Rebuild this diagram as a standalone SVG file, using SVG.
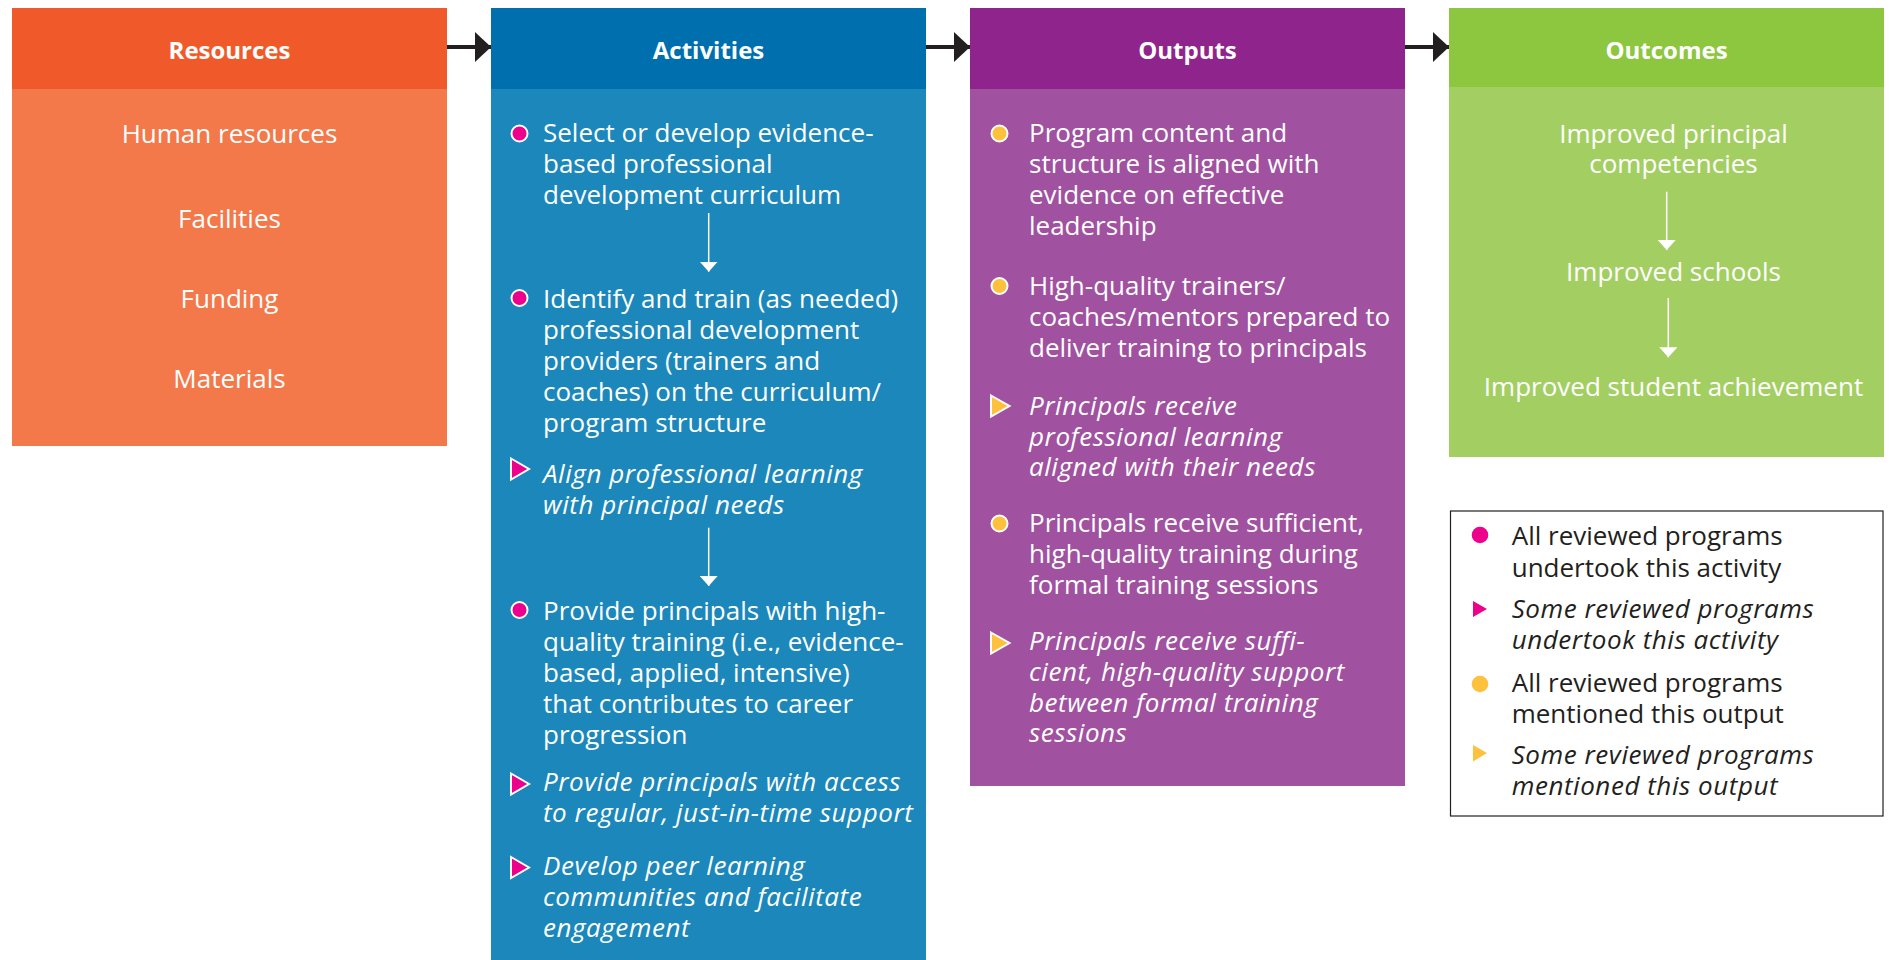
<svg xmlns="http://www.w3.org/2000/svg" width="1893" height="960" viewBox="0 0 1893 960">
<style>
  text { font-family: "Open Sans", "Noto Sans", "Liberation Sans", sans-serif; font-size: 26px; fill: #ffffff; }
  .hd { font-weight: bold; font-size: 24px; text-anchor: middle; }
  .c { text-anchor: middle; }
  .it { font-style: italic; letter-spacing: 0.55px; }
  .lg { fill: #231f20; }
  .conn { stroke: #231f20; stroke-width: 4; fill: none; }
  .wline { stroke: #ffffff; stroke-width: 1.5; fill: none; }
  .pinkdot { fill: #ec008c; stroke: #ffffff; stroke-width: 2; }
  .yeldot { fill: #fdc13d; stroke: #ffffff; stroke-width: 2; }
</style>
<defs>
  <marker id="blk" viewBox="0 0 16 30" refX="16" refY="15" markerWidth="16" markerHeight="30" markerUnits="userSpaceOnUse" orient="auto">
    <path d="M0,0 L16,15 L0,30 Z" fill="#231f20"/>
  </marker>
  <marker id="wht" viewBox="0 0 10 18" refX="10" refY="9" markerWidth="10" markerHeight="18" markerUnits="userSpaceOnUse" orient="auto">
    <path d="M0,0 L10,9 L0,18 Z" fill="#ffffff"/>
  </marker>
</defs>

<g id="resources">
  <rect x="12" y="8" width="435" height="438" fill="#f3784a"/>
  <rect x="12" y="8" width="435" height="81" fill="#f05a2a"/>
  <text class="hd" x="229.5" y="59">Resources</text>
  <text class="c" x="229.5" y="143">Human resources</text>
  <text class="c" x="229.5" y="228">Facilities</text>
  <text class="c" x="229.5" y="308">Funding</text>
  <text class="c" x="229.5" y="388">Materials</text>
</g>

<g id="activities">
  <rect x="491" y="8" width="435" height="952" fill="#1b87ba"/>
  <rect x="491" y="8" width="435" height="81" fill="#006fad"/>
  <text class="hd" x="708.5" y="59">Activities</text>
  <circle class="pinkdot" cx="519.5" cy="133.5" r="8"/>
  <text x="543"><tspan x="543" y="142">Select or develop evidence-</tspan><tspan x="543" y="173">based professional</tspan><tspan x="543" y="204">development curriculum</tspan></text>
  <circle class="pinkdot" cx="519.5" cy="298" r="8"/>
  <text x="543"><tspan x="543" y="307.5">Identify and train (as needed)</tspan><tspan x="543" y="338.5">professional development</tspan><tspan x="543" y="369.5">providers (trainers and</tspan><tspan x="543" y="400.5">coaches) on the curriculum/</tspan><tspan x="543" y="431.5">program structure</tspan></text>
  <polygon class="pinkdot" points="511,458.5 529,469 511,479.5"/>
  <text class="it" x="543"><tspan x="543" y="482.5">Align professional learning</tspan><tspan x="543" y="513.5">with principal needs</tspan></text>
  <circle class="pinkdot" cx="519.5" cy="610" r="8"/>
  <text x="543"><tspan x="543" y="619.5">Provide principals with high-</tspan><tspan x="543" y="650.5">quality training (i.e., evidence-</tspan><tspan x="543" y="681.5">based, applied, intensive)</tspan><tspan x="543" y="712.5">that contributes to career</tspan><tspan x="543" y="743.5">progression</tspan></text>
  <polygon class="pinkdot" points="511,773.5 529,784 511,794.5"/>
  <text class="it" x="543"><tspan x="543" y="791">Provide principals with access</tspan><tspan x="543" y="822">to regular, just-in-time support</tspan></text>
  <polygon class="pinkdot" points="511,857 529,867.5 511,878"/>
  <text class="it" x="543"><tspan x="543" y="875">Develop peer learning</tspan><tspan x="543" y="906">communities and facilitate</tspan><tspan x="543" y="937">engagement</tspan></text>
</g>

<g id="outputs">
  <rect x="970" y="8" width="435" height="778" fill="#a0519f"/>
  <rect x="970" y="8" width="435" height="81" fill="#8e248c"/>
  <text class="hd" x="1187.5" y="59">Outputs</text>
  <circle class="yeldot" cx="999.5" cy="133.5" r="8"/>
  <text x="1029"><tspan x="1029" y="141.5">Program content and</tspan><tspan x="1029" y="172.5">structure is aligned with</tspan><tspan x="1029" y="204">evidence on effective</tspan><tspan x="1029" y="235">leadership</tspan></text>
  <circle class="yeldot" cx="999.5" cy="286" r="8"/>
  <text x="1029"><tspan x="1029" y="295">High-quality trainers/</tspan><tspan x="1029" y="325.5">coaches/mentors prepared to</tspan><tspan x="1029" y="356.5">deliver training to principals</tspan></text>
  <polygon class="yeldot" points="991,395.5 1009.5,406 991,416.5"/>
  <text class="it" x="1029"><tspan x="1029" y="415">Principals receive</tspan><tspan x="1029" y="445.5">professional learning</tspan><tspan x="1029" y="476">aligned with their needs</tspan></text>
  <circle class="yeldot" cx="999.5" cy="523.5" r="8"/>
  <text x="1029"><tspan x="1029" y="531.5">Principals receive sufficient,</tspan><tspan x="1029" y="562.5">high-quality training during</tspan><tspan x="1029" y="593.5">formal training sessions</tspan></text>
  <polygon class="yeldot" points="991,632.5 1009.5,643 991,653.5"/>
  <text class="it" x="1029"><tspan x="1029" y="650">Principals receive suffi-</tspan><tspan x="1029" y="680.5">cient, high-quality support</tspan><tspan x="1029" y="711.5">between formal training</tspan><tspan x="1029" y="742">sessions</tspan></text>
</g>

<g id="outcomes">
  <rect x="1449" y="8" width="435" height="449" fill="#a3cf62"/>
  <rect x="1449" y="8" width="435" height="79" fill="#8dc63f"/>
  <text class="hd" x="1666.5" y="59">Outcomes</text>
  <text class="c" x="1673.5"><tspan x="1673.5" y="142.7">Improved principal</tspan><tspan x="1673.5" y="173.3">competencies</tspan></text>
  <text class="c" x="1673.5" y="281">Improved schools</text>
  <text class="c" x="1673.5" y="396">Improved student achievement</text>
</g>

<g id="legend">
  <rect x="1450.5" y="511" width="432.5" height="305" fill="#ffffff" stroke="#231f20" stroke-width="1.2"/>
  <circle cx="1480" cy="535" r="8.3" fill="#ec008c"/>
  <text class="lg"><tspan x="1511.7" y="545">All reviewed programs</tspan><tspan x="1511.7" y="576.5">undertook this activity</tspan></text>
  <polygon points="1473,601 1487,609 1473,617" fill="#ec008c"/>
  <text class="lg it"><tspan x="1511.7" y="618.3">Some reviewed programs</tspan><tspan x="1511.7" y="649.3">undertook this activity</tspan></text>
  <circle cx="1480" cy="684" r="8.3" fill="#fdc13d"/>
  <text class="lg"><tspan x="1511.7" y="692.3">All reviewed programs</tspan><tspan x="1511.7" y="722.7">mentioned this output</tspan></text>
  <polygon points="1473,745 1487,753 1473,761.5" fill="#fdc13d"/>
  <text class="lg it"><tspan x="1511.7" y="764">Some reviewed programs</tspan><tspan x="1511.7" y="795">mentioned this output</tspan></text>
</g>

<g id="connectors">
  <line class="conn" x1="447" y1="47" x2="491" y2="47" marker-end="url(#blk)"/>
  <line class="conn" x1="926" y1="47" x2="970" y2="47" marker-end="url(#blk)"/>
  <line class="conn" x1="1405" y1="47" x2="1449" y2="47" marker-end="url(#blk)"/>
  <line class="wline" x1="708.7" y1="213" x2="708.7" y2="271.7" marker-end="url(#wht)"/>
  <line class="wline" x1="708.7" y1="527.7" x2="708.7" y2="586" marker-end="url(#wht)"/>
  <line class="wline" x1="1666.7" y1="191.7" x2="1666.7" y2="250" marker-end="url(#wht)"/>
  <line class="wline" x1="1668.3" y1="298" x2="1668.3" y2="357.3" marker-end="url(#wht)"/>
</g>
</svg>
